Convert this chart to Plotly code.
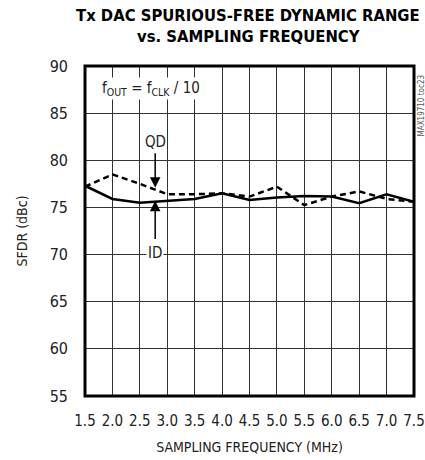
import plotly.graph_objects as go

freq = [1.5, 2.0, 2.5, 3.0, 3.5, 4.0, 4.5, 5.0, 5.5, 6.0, 6.5, 7.0, 7.5]
sfdr_id = [77.3, 75.9, 75.5, 75.7, 75.9, 76.5, 75.8, 76.05, 76.2, 76.15, 75.45, 76.4, 75.6]
sfdr_qd = [77.2, 78.5, 77.5, 76.4, 76.4, 76.5, 76.15, 77.2, 75.25, 76.15, 76.7, 75.9, 75.6]
x_ticks = [1.5, 2.0, 2.5, 3.0, 3.5, 4.0, 4.5, 5.0, 5.5, 6.0, 6.5, 7.0, 7.5]
y_ticks = [55, 60, 65, 70, 75, 80, 85, 90]

FONT = "DejaVu Sans Condensed, Roboto, sans-serif"
TXT = "#222"

# plot area targeted at page x 85..414, y 66..396
PL, PR, PT, PB = 85, 414, 66, 396
W, H = 425, 460


def px(x):
    return (x - PL) / (PR - PL)


def py(y):
    return (PB - y) / (PB - PT)


fig = go.Figure()
fig.add_trace(go.Scatter(x=freq, y=sfdr_qd, mode="lines", name="QD",
                         line=dict(color="black", width=2.5, dash="6px,4px")))
fig.add_trace(go.Scatter(x=freq, y=sfdr_id, mode="lines", name="ID",
                         line=dict(color="black", width=2.5)))

fig.update_layout(
    width=W, height=H,
    margin=dict(l=PL, r=W - PR, t=PT, b=H - PB, autoexpand=False),
    paper_bgcolor="white", plot_bgcolor="white",
    showlegend=False,
    font=dict(family=FONT, size=14, color=TXT),
    xaxis=dict(
        range=[1.5, 7.5], tickvals=x_ticks,
        ticktext=[f"{v:.1f}" for v in x_ticks],
        showgrid=True, gridcolor="#333", gridwidth=1,
        zeroline=False, ticks="", ticklen=0, ticklabelstandoff=14,
        tickfont=dict(size=15, family=FONT, color=TXT),
        title=dict(text="SAMPLING FREQUENCY (MHz)", standoff=13,
                   font=dict(size=14, family=FONT, color=TXT)),
    ),
    yaxis=dict(
        range=[55, 90], tickvals=y_ticks,
        showgrid=True, gridcolor="#333", gridwidth=1,
        zeroline=False, ticks="", ticklen=0, ticklabelstandoff=16,
        tickfont=dict(size=16, family=FONT, color=TXT),
        title=dict(text="SFDR (dBc)", standoff=18,
                   font=dict(size=14, family=FONT, color=TXT)),
    ),
    shapes=[dict(type="rect", xref="paper", yref="paper", x0=0, y0=0, x1=1, y1=1,
                 line=dict(color="black", width=3))],
    annotations=[
        dict(x=px(248), y=py(15.5), xref="paper", yref="paper",
             text="<b>Tx DAC SPURIOUS-FREE DYNAMIC RANGE</b>", showarrow=False,
             xanchor="center", yanchor="middle",
             font=dict(size=16.5, family=FONT, color="black")),
        dict(x=px(248), y=py(36), xref="paper", yref="paper",
             text="<b>vs. SAMPLING FREQUENCY</b>", showarrow=False,
             xanchor="center", yanchor="middle",
             font=dict(size=16.5, family=FONT, color="black")),
        dict(x=1.78, y=87.6, xref="x", yref="y", xanchor="left", yanchor="middle",
             text="f<sub>OUT</sub> = f<sub>CLK</sub> / 10", showarrow=False,
             bgcolor="white", font=dict(size=15, family=FONT, color=TXT)),
        dict(x=2.78, y=77.1, xref="x", yref="y", ax=2.78, ay=80.9, axref="x", ayref="y",
             text="", showarrow=True, arrowhead=2, arrowsize=1.4, arrowwidth=1.5,
             arrowcolor="black"),
        dict(x=2.78, y=81.9, xref="x", yref="y", text="QD", showarrow=False,
             yanchor="middle", font=dict(size=15, family=FONT, color=TXT)),
        dict(x=2.78, y=75.7, xref="x", yref="y", ax=2.78, ay=71.5, axref="x", ayref="y",
             text="", showarrow=True, arrowhead=2, arrowsize=1.4, arrowwidth=1.5,
             arrowcolor="black"),
        dict(x=2.78, y=70.15, xref="x", yref="y", text="ID", showarrow=False,
             bgcolor="white", font=dict(size=15, family=FONT, color=TXT)),
        dict(x=px(420.5), y=py(106), xref="paper", yref="paper",
             text="MAX19710 toc23", showarrow=False, textangle=-90,
             xanchor="center", yanchor="middle",
             font=dict(size=8, family=FONT, color="#555")),
    ],
)

fig.write_html("out.html",
               config={"displayModeBar": False},
               post_script="document.body.style.margin='0';"
                           "document.body.style.overflow='hidden';")
